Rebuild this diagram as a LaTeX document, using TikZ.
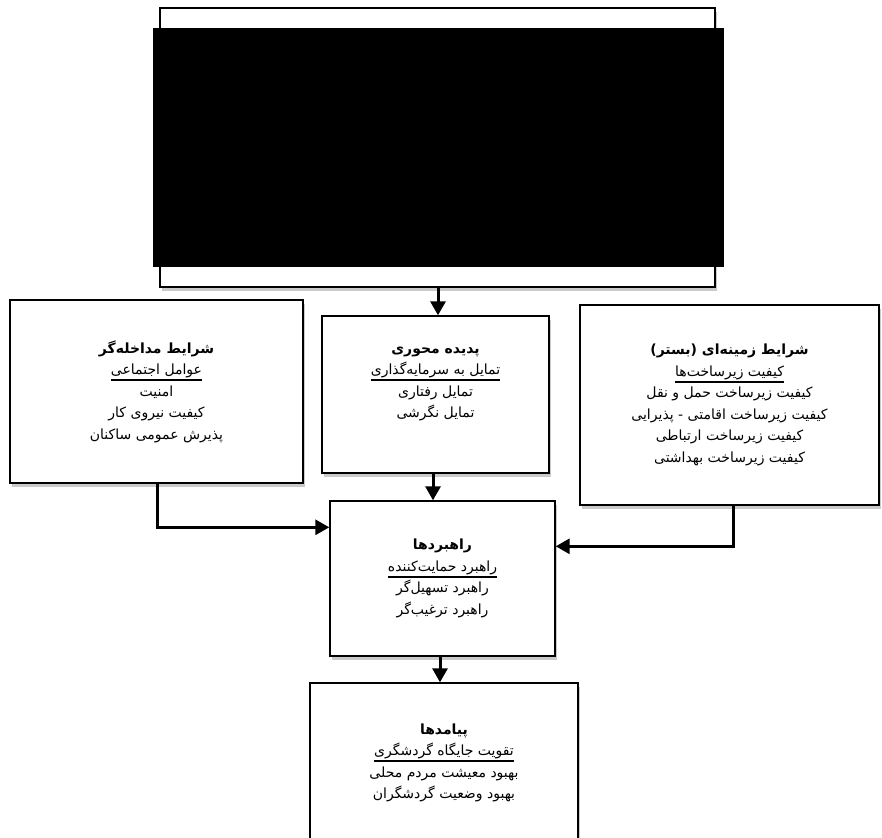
\documentclass[tikz,border=0pt]{standalone}
\usepackage{fontspec}
\usetikzlibrary{arrows.meta,shadows}
\TeXXeTstate=1
\newfontfamily\arabicfont[Script=Arabic]{DejaVu Sans}
\newcommand{\rl}[1]{\beginR #1\endR}
\newcommand{\ul}[1]{\leavevmode\vtop{\hbox{\rl{#1}}\kern1.2pt\hrule height 1.6pt}}
\tikzset{
  boxfont/.style={font=\arabicfont\fontsize{14}{21.5}\selectfont},
  boxstyle/.style={draw=black, line width=1.4pt, fill=white, inner sep=0pt,
    align=center, boxfont,
    drop shadow={shadow xshift=2pt, shadow yshift=-4pt, opacity=0.35, fill=black!60}},
  conn/.style={line width=3pt, -{Triangle[width=15pt,length=14pt]}}
}
\begin{document}
\begin{tikzpicture}[x=1pt,y=-1pt]
\useasboundingbox (0,0) rectangle (882,837);
% top box
\node[boxstyle, minimum width=555pt, minimum height=279pt] (top) at (437.5,147.5) {};
\fill[black] (153,28) rectangle (724,267);
% left
\node[boxstyle, minimum width=293pt, minimum height=183pt] (left) at (156.5,391.5)
 {{\bfseries\rl{شرایط مداخله‌گر}}\\ \ul{عوامل اجتماعی}\\ \rl{امنیت}\\ \rl{کیفیت نیروی کار}\\ \rl{پذیرش عمومی ساکنان}};
% middle
\node[boxstyle, minimum width=227pt, minimum height=157pt] (mid) at (435.5,394.5) {};
\node[boxfont, align=center] (midtxt) at (435.5,384)
 {{\bfseries\rl{پدیده محوری}}\\ \ul{تمایل به سرمایه‌گذاری}\\ \rl{تمایل رفتاری}\\ \rl{تمایل نگرشی}};
% right
\node[boxstyle, minimum width=299pt, minimum height=200pt] (right) at (729.5,405)
 {{\bfseries\rl{شرایط زمینه‌ای (بستر)}}\\ \ul{کیفیت زیرساخت‌ها}\\ \rl{کیفیت زیرساخت حمل و نقل}\\ \rl{کیفیت زیرساخت اقامتی - پذیرایی}\\ \rl{کیفیت زیرساخت ارتباطی}\\ \rl{کیفیت زیرساخت بهداشتی}};
% strategies
\node[boxstyle, minimum width=225pt, minimum height=155pt] (strat) at (442.5,578.5)
 {{\bfseries\rl{راهبردها}}\\ \ul{راهبرد حمایت‌کننده}\\ \rl{راهبرد تسهیل‌گر}\\ \rl{راهبرد ترغیب‌گر}};
% outcomes
\node[boxstyle, minimum width=268pt, minimum height=160pt] (out) at (444,763)
 {{\bfseries\rl{پیامدها}}\\ \ul{تقویت جایگاه گردشگری}\\ \rl{بهبود معیشت مردم محلی}\\ \rl{بهبود وضعیت گردشگران}};
% connectors
\draw[conn] ([xshift=0.5pt]top.south) -- ([xshift=0.5pt]top.south |- mid.north);
\draw[conn] ([xshift=-2.5pt]mid.south) -- ([xshift=-2.5pt]mid.south |- strat.north);
\draw[conn] ([xshift=0.5pt]left.south) |- ([yshift=-27pt]strat.north west);
\draw[conn] ([xshift=3.5pt]right.south) |- ([yshift=-46pt]strat.north east);
\draw[conn] ([xshift=-2.5pt]strat.south) -- ([xshift=-2.5pt]strat.south |- out.north);
\end{tikzpicture}
\end{document}
